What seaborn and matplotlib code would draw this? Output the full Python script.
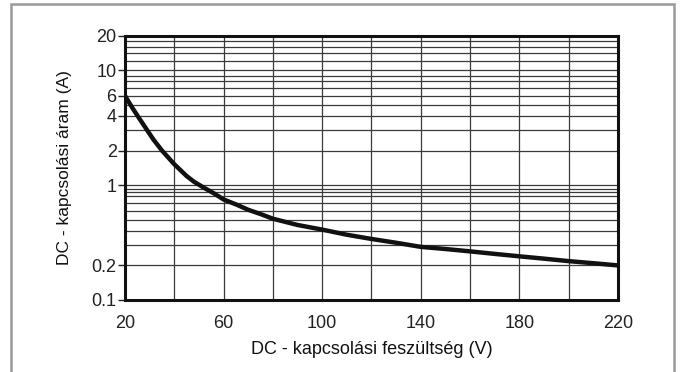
import matplotlib
matplotlib.use("Agg")
import matplotlib.pyplot as plt
import seaborn as sns
import pandas as pd
from matplotlib.patches import Rectangle

# Data
voltage = [20, 23, 26, 31.5, 35, 40, 45, 48, 52, 56, 60, 65, 70, 75, 80, 90, 100,
           110, 120, 130, 140, 150, 160, 170, 180, 190, 200, 210, 220]
current = [6.0, 4.7, 3.75, 2.5, 2.0, 1.52, 1.2, 1.07, 0.95, 0.85, 0.75, 0.68, 0.61, 0.56, 0.51,
           0.45, 0.41, 0.37, 0.34, 0.315, 0.29, 0.278, 0.265, 0.252, 0.24, 0.229, 0.218, 0.209, 0.2]

x_ticks = [20, 60, 100, 140, 180, 220]
x_grid = [40, 60, 80, 100, 120, 140, 160, 180, 200]
y_ticks = [0.1, 0.2, 1, 2, 4, 6, 10, 20]
y_tick_labels = ["0.1", "0.2", "1", "2", "4", "6", "10", "20"]
y_grid = [0.2, 0.3, 0.4, 0.5, 0.6, 0.7, 0.8, 0.87, 0.93, 1, 2, 3, 4, 5, 6, 7, 8, 9, 10, 12, 14, 16, 18]

x_label = "DC - kapcsolási feszültség (V)"
y_label = "DC - kapcsolási áram (A)"

sns.set_theme(style="white")
plt.rcParams['font.family'] = ['Liberation Sans', 'DejaVu Sans']

df = pd.DataFrame({"V": voltage, "I": current})

fig = plt.figure(figsize=(6.82, 3.72), dpi=100)
ax = fig.add_axes([125/682, 1-300/372, (618-125)/682, (300-35.7)/372])

ax.set_yscale("log")
ax.set_xlim(20, 220)
ax.set_ylim(0.1, 20)

for g in x_grid:
    ax.axvline(g, color="#3a3a3a", lw=0.9, zorder=1)
for g in y_grid:
    ax.axhline(g, color="#3a3a3a", lw=0.9, zorder=1)

sns.lineplot(data=df, x="V", y="I", ax=ax, color="#111111", lw=3.2, zorder=3)

ax.set_xticks(x_ticks)
ax.set_xticklabels([str(v) for v in x_ticks])
ax.set_yticks(y_ticks)
ax.set_yticklabels(y_tick_labels)
ax.minorticks_off()
ax.tick_params(axis="y", which="major", length=5, width=1, color="#222222",
               labelsize=13, pad=1, direction="out", left=True, labelcolor="#222222")
ax.tick_params(axis="x", which="major", length=0, labelsize=13, pad=11, labelcolor="#222222")

ax.set_xlabel(x_label, fontsize=13, color="#111111", labelpad=6)
ax.set_ylabel(y_label, fontsize=12.5, color="#111111", labelpad=14)

for s in ax.spines.values():
    s.set_visible(True)
    s.set_color("#111111")
    s.set_linewidth(2.2)
    s.set_zorder(4)

# outer gray frame
fig.patches.append(Rectangle((11/682, -0.05), (674-11)/682, 1.05 - 4/372,
                             transform=fig.transFigure, fill=False,
                             edgecolor="#9a9a9a", lw=1.8))

fig.savefig("out.png", dpi=100)
